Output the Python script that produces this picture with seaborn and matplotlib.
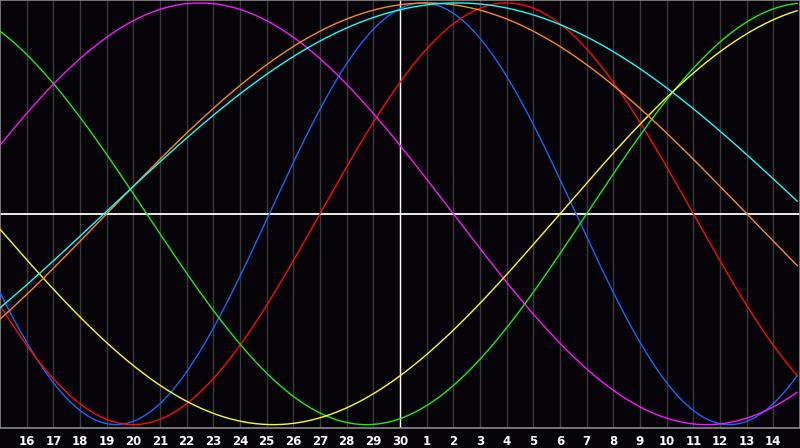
import numpy as np
import pandas as pd
import matplotlib
matplotlib.use("Agg")
import matplotlib.pyplot as plt
import seaborn as sns

# biorhythm cycles (days) and the day index where each one crosses zero going up
periods = [23, 28, 33, 38, 43, 48, 53]
zero_day = [10.1, 12.0, 22.0, -2.0, 21.0, 4.0, 3.9]
colors = ["#1466ff", "#ff0a0a", "#14f014", "#ff14ff", "#ffff14", "#ff8a14", "#14ffff"]

# day numbers along the bottom (index 1..29), the chart centre is day 30
day_labels = list(range(16, 31)) + list(range(1, 15))
center_index = 15

sns.set_style("dark")
plt.rcParams["font.family"] = ["DejaVu Sans"]

fig = plt.figure(figsize=(8, 4.48), dpi=100, facecolor="#050308")
ax = fig.add_axes([0, 20 / 448, 1, 428 / 448])
ax.set_facecolor("#050308")

t = np.linspace(0, 29.9, 900)
rows = []
for p, z in zip(periods, zero_day):
    vals = np.sin(2 * np.pi * (t - z) / p)
    rows.append(pd.DataFrame({"day": t, "value": vals, "period": str(p)}))
df = pd.concat(rows, ignore_index=True)

# grid lines first
for i in range(1, 30):
    ax.axvline(i, color="#3a3a3a", lw=1, zorder=1)
ax.axvline(center_index, color="white", lw=1, zorder=2)
ax.axhline(0, color="white", lw=1.3, zorder=2)

sns.lineplot(data=df, x="day", y="value", hue="period",
             palette=dict(zip([str(p) for p in periods], colors)),
             lw=1, legend=False, ax=ax, zorder=3, sort=False,
             estimator=None)

ax.set_xlim(0, 30)
ax.set_ylim(-1.016, 1.014)
ax.set_xticks(range(1, 30))
ax.set_xticklabels([str(d) for d in day_labels], color="white",
                   fontsize=8.5, fontweight="bold")
ax.set_yticks([])
ax.tick_params(axis="x", length=0, pad=5)
ax.set_xlabel("")
ax.set_ylabel("")
ax.grid(False)
for s in ax.spines.values():
    s.set_visible(True)
    s.set_color("#8a8a8a")
    s.set_linewidth(1.2)

fig.savefig("out.png", dpi=100, facecolor=fig.get_facecolor())
